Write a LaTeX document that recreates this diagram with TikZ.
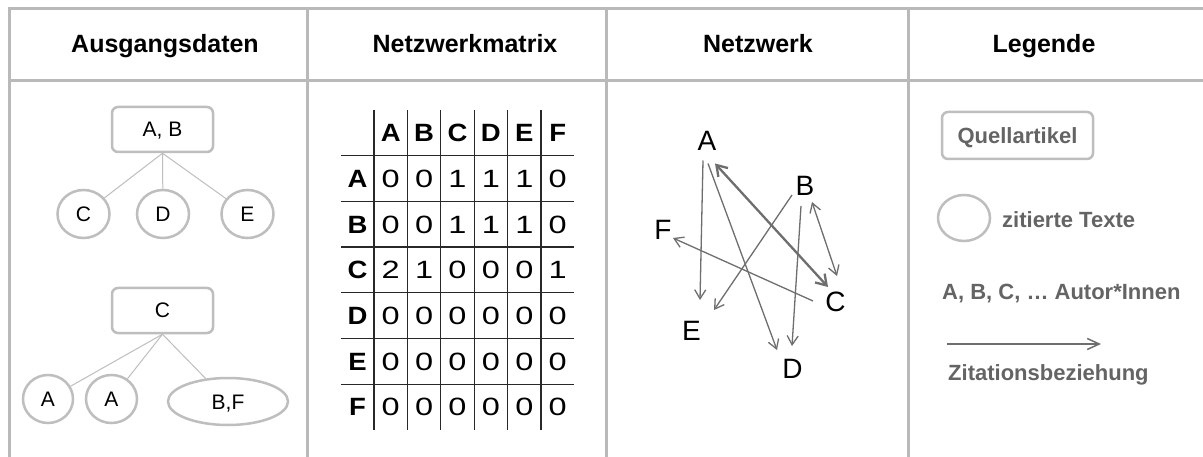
\documentclass[tikz,border=0pt]{standalone}
\usepackage{fontspec}
\setmainfont{Liberation Sans}
\newfontfamily\widefont[FakeStretch=1.1]{Liberation Sans}
\newfontfamily\digitfont[FakeStretch=1.3]{Liberation Sans}
\usetikzlibrary{arrows.meta,shapes.geometric}
\definecolor{framegray}{RGB}{185,185,185}
\definecolor{boxgray}{RGB}{190,190,190}
\definecolor{arrgray}{RGB}{110,110,110}
\definecolor{leggray}{RGB}{100,100,100}
\definecolor{gridcol}{RGB}{40,40,40}
\newcommand{\fsz}[1]{\fontsize{#1}{#1}\selectfont}
\begin{document}
\begin{tikzpicture}[x=1pt,y=-1pt,
  frameline/.style={draw=framegray,line width=3pt},
  head/.style={font=\fsz{25}\bfseries,anchor=base,inner sep=0pt},
  srcbox/.style={draw=boxgray,line width=2.5pt,rounded corners=6pt,minimum width=101pt,minimum height=45pt,inner sep=0pt,font=\fsz{21},text height=15pt,text depth=0pt},
  cited/.style={draw=boxgray,line width=2.5pt,ellipse,minimum width=52pt,minimum height=48pt,inner sep=0pt,font=\fsz{21},text height=15pt,text depth=0pt},
  tie/.style={draw=boxgray,line width=1pt},
  gridline/.style={draw=gridcol,line width=1.3pt},
  mhead/.style={font=\widefont\fsz{25}\bfseries,inner sep=0pt,text height=17.9pt,text depth=0pt},
  mval/.style={font=\digitfont\fsz{25},inner sep=0pt,text height=17.9pt,text depth=0pt},
  author/.style={font=\fsz{28},inner sep=0pt,text height=20pt,text depth=0pt},
  cite/.style={draw=arrgray,line width=1.3pt,-{Straight Barb[length=9pt,width=11pt]}},
  citeboth/.style={draw=arrgray,line width=1.3pt,{Straight Barb[length=9pt,width=11pt]}-{Straight Barb[length=9pt,width=11pt]}},
  citethick/.style={draw=arrgray,line width=2.3pt,{Straight Barb[length=10pt,width=13pt]}-{Straight Barb[length=10pt,width=13pt]}},
  legtext/.style={font=\fsz{22}\bfseries,text=leggray,inner sep=0pt,anchor=base west}
]
\useasboundingbox (0,0) rectangle (1203,457);
\fill[white] (0,0) rectangle (1203,457);

% frame
\draw[frameline] (9,457) -- (9,9) -- (1203,9);
\draw[frameline] (9,81) -- (1203,81);
\foreach \x in {307,606,908} \draw[frameline] (\x,9) -- (\x,457);

% headers
\node[head] (h1) at (165,53) {Ausgangsdaten};
\node[head] (h2) at (465,53) {Netzwerkmatrix};
\node[head] (h3) at (758,53) {Netzwerk};
\node[head] (h4) at (1044,53) {Legende};

% column 1
\node[srcbox] (ab) at (162.5,129.5) {A, B};
\node[cited] (oc) at (83.5,214) {C};
\node[cited] (od) at (163,214) {D};
\node[cited] (oe) at (247.5,214) {E};
\draw[tie] (ab.south) -- (oc);
\draw[tie] (ab.south) -- (od);
\draw[tie] (ab.south) -- (oe);

\node[srcbox] (cs) at (162.5,310.5) {C};
\node[cited,minimum width=50pt] (oa1) at (48,399) {A};
\node[cited,minimum width=51pt] (oa2) at (111.5,399) {A};
\node[cited,minimum width=120pt,minimum height=47pt] (obf) at (228,401.5) {B,F};
\draw[tie] (cs.south) -- (oa1);
\draw[tie] (cs.south) -- (oa2);
\draw[tie] (cs.south) -- (obf);

% column 2: matrix
\foreach \i in {0,...,5} \draw[gridline] (374+33.4*\i,110) -- (374+33.4*\i,430);
\foreach \k in {1,...,6} \draw[gridline] (341,110+45.7*\k) -- (574.4,110+45.7*\k);
\foreach \c [count=\j] in {A,B,C,D,E,F}
  \node[mhead] (mh\j) at (357.3+33.4*\j,132.8) {\c};
\foreach \r/\vals [count=\i] in {A/{0,0,1,1,1,0},B/{0,0,1,1,1,0},C/{2,1,0,0,0,1},D/{0,0,0,0,0,0},E/{0,0,0,0,0,0},F/{0,0,0,0,0,0}}{
  \node[mhead] (mr\i) at (357.5,132.8+45.7*\i) {\r};
  \foreach \v [count=\j] in \vals
    \node[mval] (m\i\j) at (357.3+33.4*\j,132.8+45.7*\i) {\v};
}

% column 3: network
\node[author] (A) at (707,140.5) {A};
\node[author] (B) at (805,185.5) {B};
\node[author] (F) at (663,230) {F};
\node[author] (C) at (835.5,301.7) {C};
\node[author] (E) at (691.5,331) {E};
\node[author] (D) at (792.5,368) {D};
\draw[cite] ([shift={(-4,20)}]A.center) -- ([shift={(8.5,-31)}]E.center);
\draw[cite] ([shift={(1,23)}]A.center) -- ([shift={(-15.5,-18)}]D.center);
\draw[citethick] ([shift={(8,23)}]A.center) -- ([shift={(-7.5,-14.7)}]C.center);
\draw[cite] ([shift={(-13,9.5)}]B.center) -- ([shift={(22.5,-21)}]E.center);
\draw[cite] ([shift={(-4,20.5)}]B.center) -- ([shift={(-0.5,-22)}]D.center);
\draw[citeboth] ([shift={(7,16.5)}]B.center) -- ([shift={(1.5,-25.7)}]C.center);
\draw[cite] ([shift={(-22.5,-0.7)}]C.center) -- ([shift={(10,8)}]F.center);

% column 4: legend
\node[draw=boxgray,line width=2.5pt,rounded corners=6pt,minimum width=151pt,minimum height=47pt,inner sep=0pt,font=\fsz{22}\bfseries,text=leggray,text height=15.7pt,text depth=0pt] (lq) at (1017.5,135.5) {Quellartikel};
\node[draw=boxgray,line width=2.5pt,ellipse,minimum width=52pt,minimum height=46pt,inner sep=0pt] (lc) at (964,218) {};
\node[legtext] (lz) at (1002,228) {zitierte Texte};
\node[legtext] (lau) at (942,299.5) {A, B, C, … Autor*Innen};
\coordinate (la1) at (947,344);
\coordinate (la2) at (1101,344);
\draw[draw=arrgray,line width=1.5pt,-{Straight Barb[length=12pt,width=11pt]}] (la1) -- (la2);
\node[legtext] (lzb) at (948,380) {Zitationsbeziehung};
\end{tikzpicture}
\end{document}
